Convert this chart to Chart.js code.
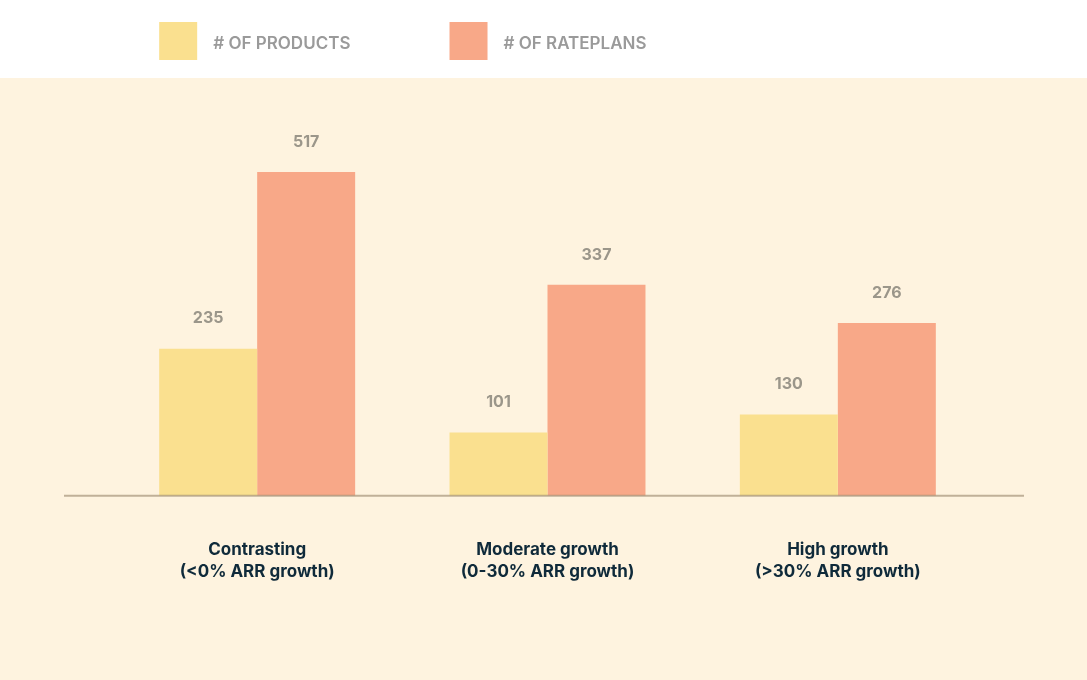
<!DOCTYPE html>
<html lang="en">
<head>
  <meta charset="UTF-8" />
  <title>Products vs rateplans by growth</title>
  <script src="https://cdn.jsdelivr.net/npm/chart.js"></script>
  <style>
    html, body {
      margin: 0;
      padding: 0;
      background: #ffffff;
    }
    #wrap {
      width: 1087px;
      height: 680px;
      position: relative;
    }
  </style>
</head>
<body>
  <div id="wrap">
    <canvas id="growthChart" width="1087" height="680"></canvas>
  </div>
  <script>
    const categorias = [
      ["Contrasting", "(<0% ARR growth)"],
      ["Moderate growth", "(0-30% ARR growth)"],
      ["High growth", "(>30% ARR growth)"]
    ];
    const produtos = [235, 101, 130];
    const rateplans = [517, 337, 276];
    const nomesSeries = ["# OF PRODUCTS", "# OF RATEPLANS"];
    const cores = ["#fae08f", "#f8a888"];

    const FONTE = "Inter, 'Noto Sans', sans-serif";

    // fundo creme abaixo da faixa da legenda
    const fundo = {
      id: "fundo",
      beforeDraw(chart) {
        const { ctx, width, height } = chart;
        ctx.save();
        ctx.fillStyle = "#ffffff";
        ctx.fillRect(0, 0, width, height);
        ctx.fillStyle = "#fef3df";
        ctx.fillRect(0, 78, width, height - 78);
        ctx.restore();
      }
    };

    // linha de base, rótulos de valor e legenda alinhada às barras
    const extras = {
      id: "extras",
      afterDatasetsDraw(chart) {
        const { ctx, chartArea, scales } = chart;
        const y0 = scales.y.getPixelForValue(0);
        ctx.save();
        ctx.strokeStyle = "rgba(150, 132, 105, 0.6)";
        ctx.lineWidth = 2;
        ctx.beginPath();
        ctx.moveTo(chartArea.left - 48, y0);
        ctx.lineTo(chartArea.right + 41, y0);
        ctx.stroke();

        ctx.fillStyle = "#9b968a";
        ctx.font = "700 16px " + FONTE;
        ctx.textAlign = "center";
        ctx.textBaseline = "middle";
        chart.data.datasets.forEach((ds, i) => {
          chart.getDatasetMeta(i).data.forEach((bar, j) => {
            ctx.fillText(String(ds.data[j]), bar.x, bar.y - 30);
          });
        });

        const meta0 = chart.getDatasetMeta(0).data;
        ctx.font = "600 17px " + FONTE;
        ctx.textAlign = "left";
        chart.data.datasets.forEach((ds, i) => {
          const bar = meta0[i];
          const x = bar.x - bar.width / 2;
          ctx.fillStyle = ds.backgroundColor;
          ctx.fillRect(x, 22, 38, 38);
          ctx.fillStyle = "#9a9a9a";
          ctx.fillText(ds.label, x + 54, 44);
        });
        ctx.restore();
      }
    };

    new Chart(document.getElementById("growthChart"), {
      type: "bar",
      data: {
        labels: categorias,
        datasets: [
          { label: nomesSeries[0], data: produtos, backgroundColor: cores[0] },
          { label: nomesSeries[1], data: rateplans, backgroundColor: cores[1] }
        ]
      },
      options: {
        responsive: false,
        animation: false,
        layout: { padding: { top: 100, left: 112, right: 104, bottom: 54 } },
        datasets: {
          bar: { categoryPercentage: 0.675, barPercentage: 1, borderWidth: 0 }
        },
        plugins: {
          legend: { display: false },
          tooltip: { enabled: false }
        },
        scales: {
          y: {
            display: false,
            min: 0,
            max: 632
          },
          x: {
            border: { display: false },
            grid: { display: false, drawTicks: false },
            ticks: {
              color: "#0f2a3a",
              padding: 43,
              font: { family: FONTE, size: 17, weight: "700", lineHeight: 1.3 }
            }
          }
        }
      },
      plugins: [fundo, extras]
    });
  </script>
</body>
</html>
